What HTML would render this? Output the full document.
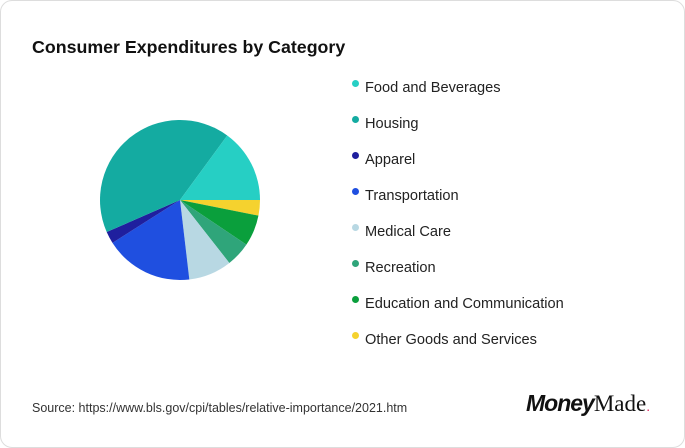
<!DOCTYPE html>
<html><head><style>
body{margin:0;width:685px;height:448px;background:#fff;font-family:"Liberation Sans",sans-serif;position:relative;overflow:hidden}
.card{position:absolute;left:0;top:0;width:683px;height:446px;border:1px solid #ddd;border-radius:12px}
.t{position:absolute;left:32px;top:37px;font-size:17.8px;font-weight:bold;color:#111}
.lg{position:absolute;left:352px;font-size:14.6px;color:#222}
.lg i{position:absolute;left:0;top:-4px;width:7px;height:7px;border-radius:50%}
.lg span{position:absolute;left:13px;top:-4px;white-space:nowrap}
.src{position:absolute;left:32px;top:401px;font-size:12.5px;color:#333}
.logo{position:absolute;left:526px;top:390px;font-size:23px;color:#111;white-space:nowrap}
</style></head><body>
<div class="card"></div>
<div class="t">Consumer Expenditures by Category</div>
<svg style="position:absolute;left:0;top:0" width="685" height="448">
<path d="M180 200L260 200A80 80 0 0 1 258.45 215.67Z" fill="#f5d22e"/>
<path d="M180 200L258.45 215.67A80 80 0 0 1 246.4 244.62Z" fill="#0a9f3c"/>
<path d="M180 200L246.4 244.62A80 80 0 0 1 229.36 262.95Z" fill="#2fa57a"/>
<path d="M180 200L229.36 262.95A80 80 0 0 1 189.33 279.45Z" fill="#b8d8e3"/>
<path d="M180 200L189.33 279.45A80 80 0 0 1 112.46 242.87Z" fill="#1f4fe0"/>
<path d="M180 200L112.46 242.87A80 80 0 0 1 106.69 232.02Z" fill="#1f1f9e"/>
<path d="M180 200L106.69 232.02A80 80 0 0 1 227.25 135.44Z" fill="#14aba1"/>
<path d="M180 200L227.25 135.44A80 80 0 0 1 260 200Z" fill="#26cfc4"/>
</svg>
<div class="lg" style="top:84px"><i style="background:#26cfc4"></i><span>Food and Beverages</span></div>
<div class="lg" style="top:120px"><i style="background:#14aba1"></i><span>Housing</span></div>
<div class="lg" style="top:156px"><i style="background:#1f1f9e"></i><span>Apparel</span></div>
<div class="lg" style="top:192px"><i style="background:#1f4fe0"></i><span>Transportation</span></div>
<div class="lg" style="top:228px"><i style="background:#b8d8e3"></i><span>Medical Care</span></div>
<div class="lg" style="top:264px"><i style="background:#2fa57a"></i><span>Recreation</span></div>
<div class="lg" style="top:300px"><i style="background:#0a9f3c"></i><span>Education and Communication</span></div>
<div class="lg" style="top:336px"><i style="background:#f5d22e"></i><span>Other Goods and Services</span></div>
<div class="src">Source: https://www.bls.gov/cpi/tables/relative-importance/2021.htm</div>
<div class="logo"><b style="font-style:italic;letter-spacing:-1px">Money</b><span style="font-family:'Liberation Serif',serif">Made</span><span style="color:#e0245e;font-size:14px">.</span></div>
</body></html>
